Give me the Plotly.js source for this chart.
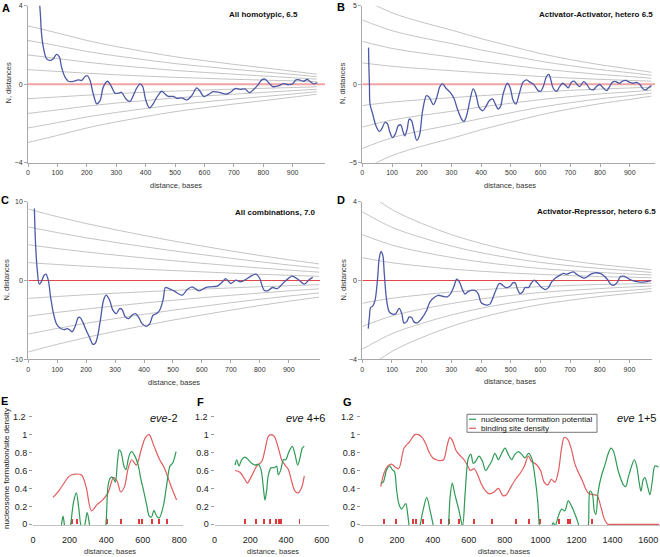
<!DOCTYPE html>
<html>
<head>
<meta charset="utf-8">
<script src="https://cdn.plot.ly/plotly-3.0.1.min.js"></script>
<style>
  html, body { margin: 0; padding: 0; background: #fff; }
  #plot { width: 660px; height: 557px; }
</style>
</head>
<body>
<div id="plot"></div>
<script>
// ---- panel A: all homotypic, 6.5 ----
var aDist = [35, 42, 46, 52, 63, 75, 86, 97, 107, 114,
  126, 137, 154, 171, 182, 194, 202, 211, 222, 234,
  245, 256, 270, 282, 296, 307, 318, 333, 347, 358,
  370, 381, 390, 401, 413, 424, 438, 455, 466, 477,
  494, 506, 523, 540, 557, 574, 585, 598, 613, 630,
  653, 676, 693, 704, 721, 738, 753, 766, 780, 795,
  806, 817, 832, 851, 868, 885, 900, 911, 923, 936,
  950, 961, 973, 984];
var aN = [5.0, 3.6, 2.58, 1.9, 1.3, 1.21, 1.3, 1.52, 1.38, 0.87,
  0.36, 0.15, 0.14, 0.22, 0.19, 0.39, 0.43, 0.19, -0.5, -1.0,
  -0.84, -0.15, 0.15, -0.07, -0.46, -0.46, -0.41, -0.75, -0.87, -0.58,
  -0.19, 0.02, -0.12, -0.84, -1.21, -1.04, -0.67, -0.36, -0.5, -0.62,
  -0.62, -0.72, -0.7, -0.8, -0.58, -0.19, -0.36, -0.63, -0.53, -0.38,
  -0.43, -0.5, -0.36, -0.22, -0.26, -0.24, -0.43, -0.29, -0.07, 0.22,
  0.26, 0.1, -0.12, -0.09, 0.03, -0.02, 0.02, 0.22, 0.22, 0.15,
  0.24, 0.12, 0.02, 0.09];
var aBandX = [0, 100, 200, 300, 400, 500, 600, 700, 800, 900, 982];
var aBands = [
  [0.74, 0.65, 0.56, 0.48, 0.41, 0.35, 0.30, 0.25, 0.21, 0.17, 0.13],
  [1.49, 1.31, 1.12, 0.96, 0.83, 0.70, 0.60, 0.51, 0.42, 0.33, 0.26],
  [2.23, 1.96, 1.67, 1.44, 1.24, 1.05, 0.90, 0.76, 0.63, 0.50, 0.38],
  [2.97, 2.61, 2.23, 1.92, 1.65, 1.40, 1.20, 1.01, 0.84, 0.66, 0.51]
];

// ---- panel B: activator-activator, hetero 6.5 ----
var bDist = [21, 22, 24, 26, 35, 46, 57, 65, 76, 84,
  93, 102, 111, 121, 129, 138, 143, 151, 158, 166,
  174, 183, 192, 203, 216, 225, 239, 250, 261, 270,
  281, 295, 308, 320, 334, 342, 351, 362, 373, 382,
  393, 405, 416, 427, 438, 450, 457, 465, 474, 488,
  497, 508, 517, 528, 541, 553, 564, 577, 592, 600,
  609, 620, 628, 635, 642, 654, 663, 674, 685, 693,
  704, 713, 723, 732, 745, 754, 766, 777, 788, 799,
  811, 822, 831, 842, 853, 864, 876, 887, 898, 911,
  923, 934, 945, 954, 965, 973];
var bN = [2.33, 1.2, 0.02, -1.26, -1.9, -2.65, -3.0, -2.86, -2.44, -2.5,
  -3.08, -3.4, -3.18, -2.65, -2.59, -3.08, -3.29, -2.86, -2.22, -2.33,
  -2.97, -3.57, -3.29, -1.69, -0.73, -0.83, -1.3, -0.88, -0.15, 0.02,
  -0.24, -0.51, -0.88, -1.58, -2.22, -2.37, -2.0, -1.05, -0.3, -0.62,
  -1.47, -1.69, -1.43, -1.05, -0.94, -1.37, -1.58, -1.43, -0.62, 0.06,
  -0.19, -1.05, -1.26, -0.62, 0.13, 0.28, 0.13, -0.02, -0.41, -0.45,
  -0.15, 0.49, 0.62, 0.24, -0.24, -0.45, -0.19, 0.06, -0.09, -0.24,
  0.13, 0.19, -0.02, -0.15, 0.17, 0.02, -0.3, -0.36, -0.15, -0.02,
  -0.24, -0.41, -0.19, 0.13, 0.17, 0.06, 0.19, 0.24, 0.13, 0.06,
  0.11, -0.02, -0.3, -0.36, -0.19, -0.09];
var bBandX = [0, 100, 200, 300, 400, 500, 600, 700, 800, 900, 973];
var bBands = [
  [1.36, 1.14, 0.99, 0.86, 0.73, 0.61, 0.49, 0.39, 0.31, 0.24, 0.19],
  [2.73, 2.28, 1.98, 1.73, 1.45, 1.21, 0.98, 0.79, 0.62, 0.49, 0.38],
  [4.09, 3.41, 2.96, 2.59, 2.18, 1.82, 1.46, 1.18, 0.93, 0.73, 0.57],
  [5.45, 4.55, 3.95, 3.45, 2.90, 2.42, 1.95, 1.57, 1.24, 0.97, 0.76]
];

// ---- panel C: all combinations, 7.0 ----
var cDist = [21, 25, 31, 38, 45, 54, 61, 69, 77, 87,
  98, 112, 124, 135, 145, 151, 162, 173, 179, 188,
  200, 212, 223, 231, 239, 249, 260, 269, 281, 292,
  304, 316, 324, 335, 347, 358, 370, 382, 393, 408,
  420, 431, 443, 454, 466, 474, 486, 503, 532, 549,
  566, 590, 613, 630, 653, 671, 682, 700, 717, 734,
  751, 769, 786, 798, 815, 827, 844, 861, 884, 900,
  912, 936, 954, 971, 983];
var cN = [9.15, 4.7, 1.31, -0.47, -0.17, 0.64, 0.8, 0.04, -2.08, -4.19,
  -5.55, -6.1, -6.23, -6.1, -6.31, -6.53, -5.81, -4.7, -4.7, -5.25,
  -6.31, -7.25, -8.1, -8.0, -7.16, -5.04, -2.5, -1.86, -2.5, -3.77,
  -4.2, -3.56, -3.69, -4.62, -4.83, -4.41, -4.2, -4.7, -5.47, -5.81,
  -5.47, -4.41, -4.2, -3.77, -2.42, -0.89, -1.02, -1.31, -1.86, -1.14,
  -0.8, -1.31, -0.89, -0.8, -0.72, -0.17, 0.25, -0.38, 0.04, -0.17,
  0.13, 0.55, 0.8, 0.38, -1.23, -1.31, -0.89, -1.02, -0.2, 0.3,
  0.55, 0.04, -0.47, 0.13, 0.4];
var cBandX = [0, 100, 200, 300, 400, 500, 600, 700, 800, 900, 1005];
var cBands = [
  [2.27, 2.03, 1.81, 1.61, 1.43, 1.26, 1.10, 0.94, 0.79, 0.66, 0.53],
  [4.54, 4.05, 3.62, 3.23, 2.86, 2.51, 2.19, 1.88, 1.59, 1.32, 1.06],
  [6.80, 6.08, 5.42, 4.84, 4.29, 3.77, 3.29, 2.82, 2.38, 1.97, 1.58],
  [9.07, 8.10, 7.23, 6.45, 5.72, 5.02, 4.38, 3.76, 3.17, 2.63, 2.11]
];

// ---- panel D: activator-repressor, hetero 6.5 ----
var dDist = [20, 24, 28, 35, 43, 51, 57, 63, 69, 74,
  82, 91, 102, 113, 124, 133, 140, 149, 158, 166,
  174, 185, 200, 217, 228, 242, 256, 271, 287, 298,
  309, 318, 327, 338, 346, 355, 369, 383, 391, 399,
  408, 421, 430, 439, 451, 462, 473, 484, 498, 507,
  515, 522, 531, 540, 548, 560, 567, 579, 590, 604,
  616, 627, 638, 653, 666, 678, 689, 700, 711, 722,
  736, 747, 758, 770, 784, 801, 812, 826, 837, 848,
  860, 869, 880, 891, 902, 916, 930, 947, 961, 972];
var dN = [-2.44, -1.85, -1.37, -1.3, -1.0, 0.02, 1.12, 1.46, 1.29, 0.36,
  -1.0, -1.59, -1.71, -1.68, -1.42, -1.68, -2.15, -2.1, -1.85, -1.88,
  -2.1, -2.15, -1.93, -1.51, -1.08, -0.86, -0.75, -0.8, -0.83, -0.66,
  -0.29, 0.07, -0.07, -0.49, -0.69, -0.58, -0.49, -0.53, -0.69, -1.08,
  -1.2, -1.25, -1.2, -0.92, -0.46, -0.15, -0.24, -0.36, -0.29, -0.12,
  -0.12, -0.41, -0.66, -0.58, -0.36, -0.36, -0.19, 0.02, -0.12, -0.36,
  -0.46, -0.36, -0.07, 0.15, 0.27, 0.36, 0.32, 0.39, 0.44, 0.32,
  0.19, 0.12, 0.19, 0.32, 0.39, 0.36, 0.27, 0.05, -0.19, -0.24,
  -0.07, 0.19, 0.22, 0.15, 0.05, -0.03, -0.07, -0.08, -0.05, -0.02];
var dBandX = [0, 100, 200, 300, 400, 500, 600, 700, 800, 900, 975];
var dBands = [
  [1.16, 0.90, 0.73, 0.58, 0.47, 0.38, 0.31, 0.25, 0.20, 0.17, 0.14],
  [2.33, 1.80, 1.45, 1.17, 0.94, 0.76, 0.61, 0.50, 0.41, 0.33, 0.28],
  [3.49, 2.70, 2.18, 1.75, 1.41, 1.14, 0.92, 0.75, 0.61, 0.50, 0.41],
  [4.65, 3.60, 2.90, 2.33, 1.88, 1.52, 1.22, 1.00, 0.81, 0.66, 0.55]
];
var distTicks = [0, 100, 200, 300, 400, 500, 600, 700, 800, 900];

// ---- panel E: eve-2 ----
var eRedX = [110, 140, 170, 200, 230, 265, 290, 320, 350, 380,
  410, 440, 460, 480, 500, 520, 540, 565, 590, 615,
  635, 660, 690, 720, 750, 785];
var eRed = [0.30, 0.37, 0.46, 0.54, 0.56, 0.55, 0.42, 0.15, 0.22, 0.27,
  0.35, 0.52, 0.48, 0.36, 0.42, 0.62, 0.72, 0.66, 0.82, 0.97,
  1.0, 0.88, 0.73, 0.62, 0.45, 0.27];
var eGreenX = [110, 140, 155, 164, 173, 190, 205, 222, 237, 252,
  265, 280, 296, 310, 340, 370, 398, 411, 424, 438,
  450, 462, 471, 482, 497, 508, 520, 530, 539, 557,
  575, 590, 603, 621, 636, 648, 661, 676, 690, 712,
  731, 749, 763, 782];
var eGreen = [-0.4, -0.3, -0.02, 0.09, -0.02, -0.2, -0.02, 0.25, 0.35, 0.15,
  -0.02, -0.02, 0.13, -0.02, -0.4, -0.4, -0.02, 0.44, 0.52, 0.52,
  0.47, 0.7, 0.83, 0.8, 0.65, 0.61, 0.72, 0.79, 0.81, 0.76,
  0.66, 0.5, 0.39, 0.22, 0.09, 0.08, 0.155, 0.09, 0.07, 0.2,
  0.44, 0.65, 0.68, 0.81];
var eSites = [214, 238, 402, 480, 577, 595, 651, 690, 735];

// ---- panel F: eve 4+6 ----
var fRedX = [115, 142, 170, 183, 208, 236, 264, 282, 301, 316,
  334, 357, 375, 394, 413, 431, 450, 468, 487, 502];
var fRed = [0.60, 0.58, 0.50, 0.46, 0.54, 0.65, 0.70, 0.83, 0.98, 1.0,
  0.98, 0.85, 0.72, 0.66, 0.61, 0.48, 0.37, 0.35, 0.41, 0.54];
var fGreenX = [115, 124, 137, 152, 170, 189, 208, 226, 245, 260,
  273, 282, 291, 301, 316, 334, 347, 357, 371, 385,
  398, 416, 435, 450, 465, 478, 491, 502];
var fGreen = [0.66, 0.72, 0.65, 0.72, 0.75, 0.72, 0.68, 0.66, 0.67, 0.61,
  0.41, 0.27, 0.37, 0.55, 0.63, 0.63, 0.65, 0.55, 0.61, 0.72,
  0.72, 0.81, 0.87, 0.78, 0.66, 0.74, 0.85, 0.87];
var fSites = [173, 230, 277, 310, 346, 360, 373, 475];

// ---- panel G: eve 1+5 ----
var gRedX = [110, 130, 150, 170, 190, 210, 240, 270, 300, 320,
  340, 360, 380, 400, 420, 440, 460, 480, 495, 510,
  530, 550, 570, 590, 610, 630, 650, 670, 690, 715,
  740, 765, 790, 810, 830, 860, 890, 910, 932, 950,
  975, 1000, 1020, 1040, 1060, 1080, 1100, 1117, 1132, 1150,
  1170, 1190, 1210, 1230, 1250, 1270, 1295, 1315, 1335, 1355,
  1375, 1395, 1450, 1550, 1660];
var gRed = [0.42, 0.58, 0.65, 0.67, 0.64, 0.62, 0.85, 0.92, 1.0, 1.0,
  0.97, 0.9, 0.8, 0.74, 0.72, 0.71, 0.72, 0.88, 0.97, 0.93,
  0.82, 0.77, 0.73, 0.67, 0.6, 0.62, 0.55, 0.45, 0.38, 0.34,
  0.36, 0.4, 0.32, 0.33, 0.4, 0.5, 0.58, 0.65, 0.76, 0.7,
  0.67, 0.6, 0.47, 0.44, 0.5, 0.47, 0.6, 0.85, 0.97, 0.95,
  0.85, 0.68, 0.58, 0.5, 0.4, 0.34, 0.33, 0.32, 0.2, 0.06,
  0.0, 0.0, 0.0, 0.0, 0.0];
var gGreenX = [110, 124, 143, 161, 174, 186, 199, 212, 226, 249,
  260, 268, 290, 320, 345, 366, 385, 403, 430, 460,
  486, 496, 508, 523, 546, 557, 566, 580, 598, 612,
  625, 638, 657, 675, 694, 712, 727, 746, 765, 783,
  802, 820, 839, 857, 876, 895, 913, 932, 950, 969,
  984, 993, 1010, 1040, 1062, 1071, 1080, 1102, 1117, 1135,
  1154, 1173, 1192, 1214, 1240, 1266, 1275, 1288, 1299, 1308,
  1321, 1340, 1358, 1377, 1392, 1405, 1433, 1461, 1474, 1488,
  1507, 1522, 1535, 1548, 1559, 1572, 1581, 1596, 1609, 1622,
  1637, 1656];
var gGreen = [0.46, 0.47, 0.61, 0.65, 0.61, 0.59, 0.37, 0.22, 0.17, 0.23,
  0.11, -0.02, -0.3, -0.1, 0.15, 0.30, 0.15, -0.02, -0.35, -0.3,
  -0.02, 0.3, 0.46, 0.33, 0.15, 0.04, -0.02, 0.35, 0.74, 0.78,
  0.68, 0.7, 0.76, 0.71, 0.6, 0.65, 0.7, 0.79, 0.72, 0.79,
  0.85, 0.78, 0.72, 0.78, 0.81, 0.78, 0.74, 0.79, 0.74, 0.52,
  0.26, -0.02, -0.3, -0.3, -0.02, 0.02, -0.02, 0.11, 0.17, 0.15,
  0.26, 0.2, 0.11, -0.02, -0.3, -0.02, 0.37, 0.34, 0.15, 0.11,
  0.37, 0.55, 0.66, 0.79, 0.85, 0.82, 0.59, 0.44, 0.42, 0.52,
  0.65, 0.72, 0.65, 0.48, 0.37, 0.5, 0.52, 0.42, 0.33, 0.48,
  0.65, 0.64];
var gSites = [126, 194, 290, 305, 345, 445, 490, 547, 629, 730,
  863, 933, 998, 1100, 1150, 1163, 1285];
var densTicks = [0, 0.2, 0.4, 0.6, 0.8, 1, 1.2];

// ---- page geometry (pixels of the 660x557 picture) ----
var W = 660, H = 557;
function xd(a, b) { return [a / W, b / W]; }
function yd(top, bottom) { return [1 - bottom / H, 1 - top / H]; }
function px(x) { return x / W; }
function py(y) { return 1 - y / H; }
function id(n) { return n === 1 ? '' : String(n); }

var FONT = 'Liberation Sans, Arial, sans-serif';
var blue = '#4c59a6', grey = '#c4c4c4', green = '#2f9a55', red = '#e25c5e';

var data = [];

function addBands(n, xs, levels) {
  levels.forEach(function (lv) {
    [1, -1].forEach(function (s) {
      data.push({
        x: xs, y: lv.map(function (v) { return s * v; }),
        xaxis: 'x' + id(n), yaxis: 'y' + id(n),
        mode: 'lines', line: {color: grey, width: 1, shape: 'spline'},
        hoverinfo: 'skip', showlegend: false
      });
    });
  });
}
function addLine(n, xs, ys, color, width) {
  data.push({
    x: xs, y: ys, xaxis: 'x' + id(n), yaxis: 'y' + id(n),
    mode: 'lines', line: {color: color, width: width, shape: 'spline', smoothing: 0.9},
    showlegend: false
  });
}
function addSites(n, xs) {
  data.push({
    type: 'bar', x: xs, y: xs.map(function () { return 0.055; }),
    width: 11, marker: {color: '#e0393b'},
    xaxis: 'x' + id(n), yaxis: 'y' + id(n), showlegend: false
  });
}

addBands(1, aBandX, aBands); addLine(1, aDist, aN, blue, 1.3);
addBands(2, bBandX, bBands); addLine(2, bDist, bN, blue, 1.3);
addBands(3, cBandX, cBands); addLine(3, cDist, cN, blue, 1.3);
addBands(4, dBandX, dBands); addLine(4, dDist, dN, blue, 1.3);

addSites(5, eSites); addLine(5, eRedX, eRed, red, 1.2); addLine(5, eGreenX, eGreen, green, 1.2);
addSites(6, fSites); addLine(6, fRedX, fRed, red, 1.2); addLine(6, fGreenX, fGreen, green, 1.2);
addSites(7, gSites); addLine(7, gRedX, gRed, red, 1.2); addLine(7, gGreenX, gGreen, green, 1.2);

var layout = {
  width: W, height: H,
  margin: {l: 0, r: 0, t: 0, b: 0},
  paper_bgcolor: '#fff', plot_bgcolor: 'rgba(0,0,0,0)',
  font: {family: FONT, color: '#333'},
  showlegend: false, bargap: 0,
  shapes: [], annotations: []
};

// distance panels A-D
function distAxes(n, xr, xdom, yr, ydom, yticks, zero) {
  layout['xaxis' + id(n)] = {
    domain: xdom, range: xr, anchor: 'y' + id(n),
    tickvals: distTicks, ticks: 'outside', ticklen: 3, tickcolor: '#a8a8a8',
    showline: true, linecolor: '#a8a8a8', linewidth: 1,
    showgrid: false, zeroline: false, tickfont: {size: 7, color: '#333'}
  };
  layout['yaxis' + id(n)] = {
    domain: ydom, range: yr, anchor: 'x' + id(n),
    tickvals: yticks, ticks: 'outside', ticklen: 3, tickcolor: '#a8a8a8',
    showline: true, linecolor: '#a8a8a8', linewidth: 1,
    showgrid: false, zeroline: false, tickfont: {size: 7, color: '#333'}
  };
  layout.shapes.push({
    type: 'line', xref: 'x' + id(n), yref: 'y' + id(n),
    x0: 0, x1: xr[1], y0: 0, y1: 0, layer: 'below',
    line: {color: zero.color, width: zero.width}
  });
}
distAxes(1, [0, 1010], xd(28, 325), [-4, 4], yd(5.7, 162.7), [-4, 0, 4], {color: '#f2a3a3', width: 2});
distAxes(2, [0, 985], xd(362.3, 655), [-5, 5], yd(5.7, 162.7), [-5, 0, 5], {color: '#f2a3a3', width: 2});
distAxes(3, [0, 1008], xd(28.3, 320), [-10, 10], yd(201.7, 359.3), [-10, 0, 10], {color: '#e0474a', width: 1});
distAxes(4, [0, 975], xd(362.3, 651.7), [-4, 4], yd(201.7, 359.3), [-4, 0, 4], {color: '#e0474a', width: 1});

function note(text, x, y, opts) {
  var a = {
    text: text, xref: 'paper', yref: 'paper', x: px(x), y: py(y),
    xanchor: 'center', yanchor: 'middle', showarrow: false,
    font: {family: FONT, size: 7.5, color: '#333'}
  };
  for (var k in opts) a[k] = opts[k];
  layout.annotations.push(a);
  return a;
}

// density panels E-G (the top "1.2" label is written as text beside its tick)
var f9 = {family: FONT, size: 9, color: '#222'};
function densAxes(n, xr, xdom, xticks) {
  layout['xaxis' + id(n)] = {
    domain: xdom, range: xr, anchor: 'y' + id(n),
    tickvals: xticks, ticks: '', ticklabelstandoff: 6,
    showline: true, linecolor: '#c2c2c2', linewidth: 1,
    showgrid: false, zeroline: false, tickfont: f9
  };
  layout['yaxis' + id(n)] = {
    domain: yd(416.7, 525), range: [-0.008, 1.2], anchor: 'x' + id(n),
    tickvals: densTicks, ticktext: ['0', '0.2', '0.4', '0.6', '0.8', '1', ''],
    ticks: 'outside', ticklen: 3, tickcolor: '#999',
    showline: false, showgrid: false, zeroline: false, tickfont: f9
  };
  note('1.2', xdom[0] * W - 5, 416.7, {xanchor: 'right', font: f9});
}
densAxes(5, [0, 820], xd(33, 183), [0, 200, 400, 600, 800]);
densAxes(6, [0, 640], xd(214.5, 329), [0, 200, 400, 600]);
densAxes(7, [0, 1665], xd(361, 660), [0, 200, 400, 600, 800, 1000, 1200, 1400, 1600]);

// panel letters
[['A', 5.5, 8], ['B', 341, 7.5], ['C', 4.5, 200], ['D', 341, 200],
 ['E', 4.5, 401], ['F', 200, 402], ['G', 347, 402]].forEach(function (l) {
  note('<b>' + l[0] + '</b>', l[1], l[2], {font: {family: FONT, size: 11, color: '#000'}});
});

// panel titles
var bold8 = {family: FONT, size: 8, color: '#111'};
note('<b>All homotypic, 6.5</b>', 300, 15, {xanchor: 'right', font: bold8});
note('<b>Activator-Activator, hetero 6.5</b>', 655, 15, {xanchor: 'right', font: bold8});
note('<b>All combinations, 7.0</b>', 318, 212, {xanchor: 'right', font: bold8});
note('<b>Activator-Repressor, hetero 6.5</b>', 658, 211, {xanchor: 'right', font: bold8});

// axis titles A-D
[[7.5, 83], [342, 83], [5.5, 280], [342.5, 280]].forEach(function (p) {
  note('N, distances', p[0], p[1], {textangle: -90});
});
[[176, 185], [510, 185], [174, 382.5], [510, 381.5]].forEach(function (p) {
  note('distance, bases', p[0], p[1]);
});

// axis titles E-G
note('nucleosome formation/site density', 6, 469,
  {textangle: -90, font: {family: FONT, size: 8, color: '#111'}});
[[110, 551], [272.5, 551], [504, 551]].forEach(function (p) {
  note('distance, bases', p[0], p[1]);
});

// construct labels
var f11 = {family: FONT, size: 11, color: '#111'};
note('<i>eve</i>-2', 180, 418, {xanchor: 'right', font: f11});
note('<i>eve</i> 4+6', 327, 418, {xanchor: 'right', font: f11});
note('<i>eve</i> 1+5', 658, 418, {xanchor: 'right', font: f11});

// legend of panel G
layout.shapes.push({
  type: 'rect', xref: 'paper', yref: 'paper',
  x0: px(467), x1: px(597), y0: py(432.3), y1: py(414.3),
  line: {color: '#555', width: 0.8}, fillcolor: '#fff', layer: 'above'
});
layout.shapes.push({
  type: 'line', xref: 'paper', yref: 'paper',
  x0: px(469), x1: px(476), y0: py(419.3), y1: py(419.3),
  line: {color: green, width: 1.2}
});
layout.shapes.push({
  type: 'line', xref: 'paper', yref: 'paper',
  x0: px(469), x1: px(476), y0: py(428.3), y1: py(428.3),
  line: {color: red, width: 1.2}
});
var f8 = {family: FONT, size: 8, color: '#111'};
note('nucleosome formation potential', 479, 419.3, {xanchor: 'left', font: f8});
note('binding site density', 479, 428.3, {xanchor: 'left', font: f8});

Plotly.newPlot('plot', data, layout, {displayModeBar: false, staticPlot: true});
</script>
</body>
</html>
